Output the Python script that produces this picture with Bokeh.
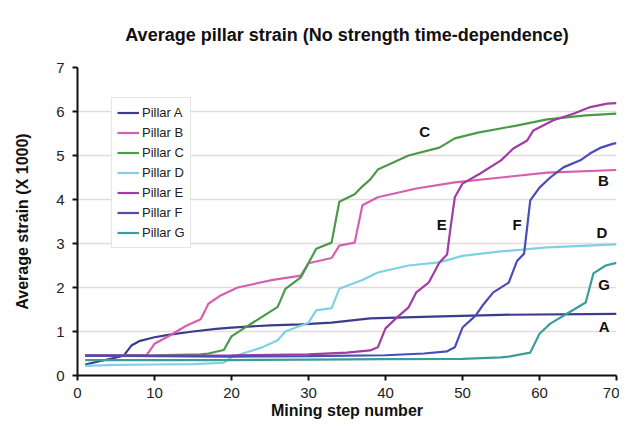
from bokeh.plotting import figure
from bokeh.models import Legend, LegendItem, Range1d, FixedTicker, ColumnDataSource
from bokeh.core.properties import value
from bokeh.embed import file_html
from bokeh.resources import INLINE

# ---- data ----
a_x = [1, 3, 6, 7, 8, 10, 12, 15, 18, 20, 25, 29, 33, 38, 46, 55, 70]
a_y = [0.25, 0.33, 0.45, 0.68, 0.78, 0.87, 0.93, 1.0, 1.06, 1.09, 1.14, 1.16, 1.2, 1.3, 1.34, 1.38, 1.4]

b_x = [1, 9, 10, 12, 14, 16, 17, 18.6, 20.8, 25, 29, 30, 33, 34, 36, 37, 39, 44, 49, 55, 61, 70]
b_y = [0.45, 0.47, 0.72, 0.91, 1.12, 1.28, 1.63, 1.82, 2.0, 2.16, 2.27, 2.55, 2.67, 2.95, 3.02, 3.87, 4.05, 4.25, 4.39, 4.5, 4.61, 4.67]

c_x = [1, 10, 16, 17, 19, 20, 21.6, 26, 27, 29, 31, 33, 34, 36, 37, 38, 39, 41, 43, 47, 49, 52, 57, 61, 66, 70]
c_y = [0.45, 0.46, 0.48, 0.5, 0.58, 0.89, 1.07, 1.56, 1.97, 2.23, 2.88, 3.02, 3.95, 4.12, 4.3, 4.45, 4.68, 4.84, 5.0, 5.18, 5.39, 5.52, 5.68, 5.82, 5.91, 5.95]

d_x = [1, 5, 10, 15, 19, 20, 24, 26, 27, 30, 31, 33, 34, 37, 39, 43, 47, 50, 55, 61, 70]
d_y = [0.22, 0.24, 0.25, 0.26, 0.29, 0.42, 0.64, 0.8, 1.0, 1.2, 1.48, 1.53, 1.97, 2.17, 2.34, 2.5, 2.57, 2.72, 2.82, 2.91, 2.98]

e_x = [1, 10, 20, 30, 35, 38, 39, 40, 41.5, 43, 44, 45.6, 47, 48, 48.4, 49, 50, 52.3, 55, 56.6, 58.4, 59.2, 61.8, 64.4, 66.6, 68.8, 70]
e_y = [0.45, 0.45, 0.46, 0.48, 0.52, 0.57, 0.64, 1.07, 1.32, 1.55, 1.89, 2.11, 2.57, 2.75, 3.3, 4.05, 4.36, 4.59, 4.89, 5.16, 5.34, 5.57, 5.8, 5.95, 6.1, 6.18, 6.19]

f_x = [1, 10, 20, 30, 40, 45, 48, 49, 50, 51.7, 52.6, 54, 56, 57.1, 58, 58.8, 60, 61.4, 63.1, 65.3, 66.6, 68, 69.6, 70]
f_y = [0.45, 0.44, 0.43, 0.44, 0.46, 0.5, 0.55, 0.64, 1.09, 1.36, 1.59, 1.89, 2.11, 2.61, 2.77, 3.98, 4.27, 4.5, 4.73, 4.89, 5.05, 5.18, 5.27, 5.28]

g_x = [1, 10, 20, 30, 40, 50, 55, 56, 58.8, 60, 61.4, 63.6, 66, 67, 68.6, 70]
g_y = [0.35, 0.35, 0.35, 0.36, 0.37, 0.38, 0.41, 0.43, 0.52, 0.95, 1.18, 1.41, 1.66, 2.32, 2.5, 2.56]

series_names = ["Pillar A", "Pillar B", "Pillar C", "Pillar D", "Pillar E", "Pillar F", "Pillar G"]
x_ticks = [0, 10, 20, 30, 40, 50, 60, 70]
y_ticks = [0, 1, 2, 3, 4, 5, 6, 7]

tag_text = ["C", "B", "E", "F", "D", "G", "A"]
tag_x = [45.1, 68.3, 47.3, 57.1, 68.1, 68.4, 68.4]
tag_y = [5.55, 4.43, 3.43, 3.43, 3.25, 2.07, 1.11]

colors = ["#3c3c8c", "#d560b0", "#4a9a48", "#80d0e4", "#a03ca2", "#4a4cb8", "#3c9c9c"]
FONT = "Liberation Sans"

p = figure(width=619, height=424, output_backend="svg", toolbar_location=None,
           x_range=Range1d(0, 70), y_range=Range1d(0, 7),
           min_border_left=77, min_border_right=3, min_border_top=67, min_border_bottom=49)
p.outline_line_color = None
p.background_fill_color = "white"

p.title.text = "Average pillar strain (No strength time-dependence)"
p.title.align = "center"
p.title.text_font = FONT
p.title.text_font_size = "18px"
p.title.text_font_style = "bold"
p.title.text_color = "#111111"
p.title.standoff = 45

for ax, ticks in ((p.xaxis[0], x_ticks), (p.yaxis[0], y_ticks)):
    ax.ticker = FixedTicker(ticks=ticks)
    ax.axis_line_color = "#111111"
    ax.axis_line_width = 2
    ax.major_tick_line_color = "#111111"
    ax.major_tick_line_width = 2
    ax.major_tick_in = 0
    ax.major_tick_out = 5
    ax.minor_tick_line_color = None
    ax.major_label_text_font = FONT
    ax.major_label_text_font_size = "15px"
    ax.major_label_text_color = "#222222"
    ax.axis_label_text_font = FONT
    ax.axis_label_text_font_size = "16px"
    ax.axis_label_text_font_style = "bold"
    ax.axis_label_text_color = "#111111"

p.xaxis.axis_label = "Mining step number"
p.yaxis.axis_label = "Average strain (X 1000)"
p.xaxis.major_label_standoff = 7
p.xaxis.axis_label_standoff = 1
p.yaxis.major_label_standoff = 8
p.yaxis.axis_label_standoff = 22

p.xgrid.grid_line_color = None
p.ygrid.grid_line_color = "#e2dcdc"
p.ygrid.grid_line_width = 1.5

xs = [a_x, b_x, c_x, d_x, e_x, f_x, g_x]
ys = [a_y, b_y, c_y, d_y, e_y, f_y, g_y]
items = []
for name, x, y, c in zip(series_names, xs, ys, colors):
    r = p.line(x, y, line_color=c, line_width=2.2)
    items.append(LegendItem(label=name, renderers=[r]))

src = ColumnDataSource(dict(x=tag_x, y=tag_y, t=tag_text))
p.text(x="x", y="y", text="t", source=src, text_font=value(FONT), text_font_size="15px",
       text_font_style="bold", text_color="#111111", text_align="center", text_baseline="middle")

legend = Legend(items=items, location=(34, 127))
legend.label_text_font = FONT
legend.label_text_font_size = "13px"
legend.label_text_color = "#222222"
legend.glyph_width = 22
legend.glyph_height = 19
legend.label_height = 19
legend.label_standoff = 3
legend.spacing = 1
legend.padding = 5
legend.margin = 0
legend.border_line_color = "#cccccc"
legend.border_line_width = 1
legend.background_fill_alpha = 1
p.add_layout(legend, "center")

open("out.html", "w").write(file_html(p, INLINE))
